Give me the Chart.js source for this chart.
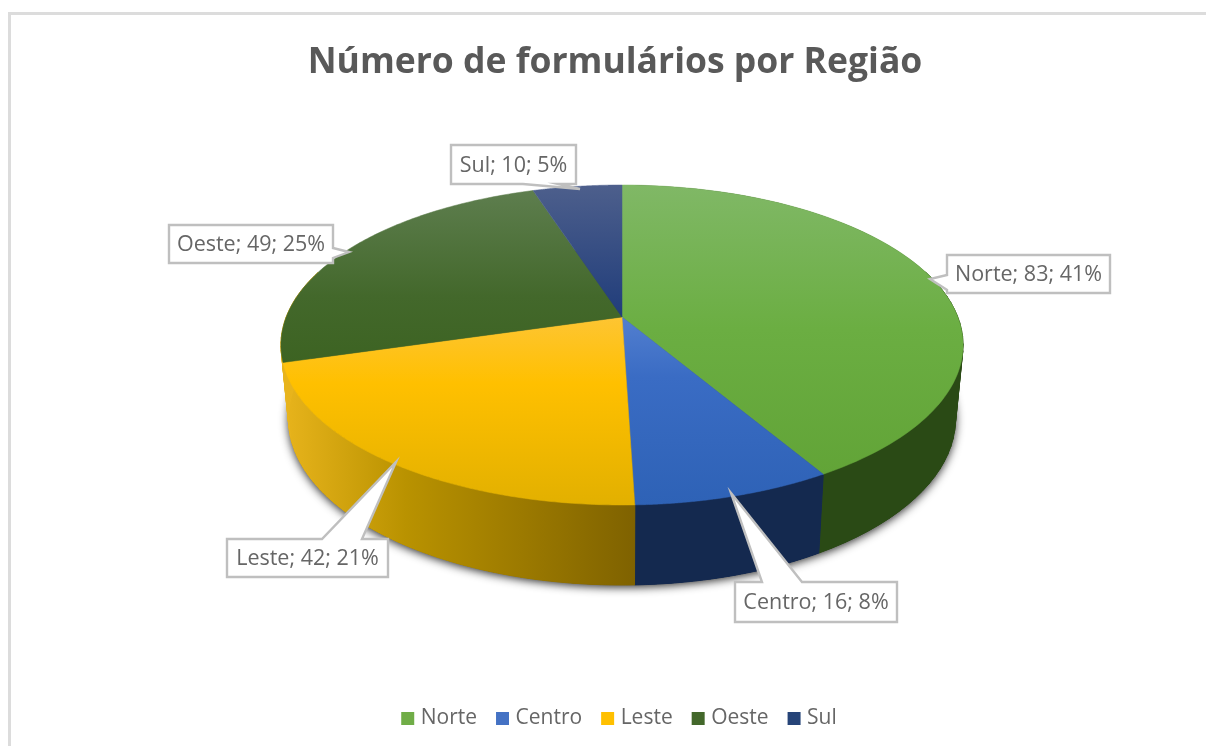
<!DOCTYPE html>
<html lang="pt">
<head>
<meta charset="utf-8">
<title>Número de formulários por Região</title>
<script src="https://cdn.jsdelivr.net/npm/chart.js@4"></script>
<style>
html,body{margin:0;padding:0;background:#fff;width:1206px;height:746px;overflow:hidden}
#frame{position:absolute;left:8px;top:12px;width:1300px;height:900px;border:3px solid #dcdcdc;box-sizing:border-box;filter:blur(0.4px)}
#wrap{position:absolute;left:0;top:0;width:1206px;height:746px;filter:blur(0.45px)}
</style>
</head>
<body>
<div id="frame"></div>
<div id="wrap"><canvas id="c" width="1206" height="746"></canvas></div>
<script>
const titleText = "Número de formulários por Região";
const categories = ["Norte", "Centro", "Leste", "Oeste", "Sul"];
const values = [83, 16, 42, 49, 10];
const percents = [41, 8, 21, 25, 5];
const baseColors = ["#70AD47", "#4472C4", "#FFC000", "#43682B", "#264478"];
const topStops = [
  [[0, "#80b866"], [0.45, "#6bae42"], [1, "#60a235"]],
  [[0.4, "#5480d0"], [0.6, "#3a6cc4"], [1, "#2e62b6"]],
  [[0.4, "#fdc536"], [0.62, "#ffc000"], [1, "#e2b000"]],
  [[0, "#5f7f50"], [0.35, "#43682b"], [0.6, "#3b6220"]],
  [[0, "#4d5f8c"], [0.42, "#1f3c7a"]]
];
const wallStops = [
  [[0, "#2a4a15"], [1, "#2a4a15"]],
  [[0, "#14294f"], [1, "#14294f"]],
  [[0, "#e8b41c"], [0.35, "#b99200"], [1, "#7f6200"]],
  [[0, "#e8b41c"], [1, "#e8b41c"]],
  [[0, "#14294f"], [1, "#14294f"]]
];
// callout layout: box x0,y0,x1,y1 and wedge base/tip points
const callouts = [
  {box:[947,255,1110,293], side:"l", a:275, b:290, tip:[930,279]},
  {box:[735,582,897,622], side:"t", a:802, b:762, tip:[731,493]},
  {box:[227,539,388,577], side:"t", a:362, b:322, tip:[396,462]},
  {box:[169,225,333,263], side:"r", a:248, b:258, tip:[349,252]},
  {box:[451,145,576,184], side:"b", a:523, b:558, tip:[580,189]}
];
// projection of the pie disc (perspective)
const CX = 622, CY = 317, RX = 335.8, AY = 155.1, K = -0.175;
const BOTTOM_SCALE = 0.978, DEPTH_MID = 72, DEPTH_V = 8;

function topPoint(theta){
  const u = Math.sin(theta), v = -Math.cos(theta), w = 1 + K * v;
  return {x: CX + RX * u / w, y: CY + AY * v / w, v};
}
function botPoint(theta){
  const p = topPoint(theta);
  return {x: CX + (p.x - CX) * BOTTOM_SCALE, y: p.y + DEPTH_MID + DEPTH_V * p.v, v: p.v};
}
function grad(ctx, x0, y0, x1, y1, stops){
  const g = ctx.createLinearGradient(x0, y0, x1, y1);
  stops.forEach(s => g.addColorStop(s[0], s[1]));
  return g;
}

const pie3d = {
  id: "pie3d",
  afterLayout(chart){
    chart.legend.left += 6;
    chart.legend.right += 6;
  },
  beforeDatasetsDraw(chart){
    const ctx = chart.ctx;
    const arcs = chart.getDatasetMeta(0).data;
    const N = 60;
    ctx.save();
    // soft shadow below the pie
    ctx.save();
    ctx.shadowColor = "rgba(0,0,0,0.85)";
    ctx.shadowBlur = 10;
    ctx.shadowOffsetY = 2;
    ctx.fillStyle = "#333";
    ctx.beginPath();
    for (let i = 0; i <= 240; i++) {
      const p = botPoint(i / 240 * 2 * Math.PI);
      i ? ctx.lineTo(p.x, p.y) : ctx.moveTo(p.x, p.y);
    }
    ctx.closePath();
    ctx.fill();
    ctx.restore();
    // side walls, as strips so that the outline between the two rims is filled
    arcs.forEach((arc, i) => {
      const s = arc.startAngle + Math.PI / 2, e = arc.endAngle + Math.PI / 2;
      const tops = [], bots = [];
      for (let j = 0; j <= N; j++) {
        const t = s + (e - s) * j / N;
        tops.push(topPoint(t)); bots.push(botPoint(t));
      }
      const xs = tops.map(p => p.x);
      const fill = grad(ctx, Math.min(...xs), 0, Math.max(...xs), 0, wallStops[i]);
      ctx.fillStyle = fill; ctx.strokeStyle = fill; ctx.lineWidth = 1;
      ctx.beginPath();
      tops.forEach((p, j) => j ? ctx.lineTo(p.x, p.y) : ctx.moveTo(p.x, p.y));
      bots.slice().reverse().forEach(p => ctx.lineTo(p.x, p.y));
      ctx.closePath();
      if (i !== 3 && i !== 4) ctx.fill();
      for (let j = 0; j < N; j++) {
        if (tops[j].v < -0.3 && tops[j + 1].v < -0.3) continue;
        ctx.beginPath();
        ctx.moveTo(tops[j].x, tops[j].y);
        ctx.lineTo(tops[j + 1].x, tops[j + 1].y);
        ctx.lineTo(bots[j + 1].x, bots[j + 1].y);
        ctx.lineTo(bots[j].x, bots[j].y);
        ctx.closePath();
        ctx.fill(); ctx.stroke();
      }
    });
    // top faces
    arcs.forEach((arc, i) => {
      const s = arc.startAngle + Math.PI / 2, e = arc.endAngle + Math.PI / 2;
      const fill = grad(ctx, 0, 185, 0, 505, topStops[i]);
      ctx.beginPath();
      ctx.moveTo(CX, CY);
      for (let j = 0; j <= 120; j++) {
        const p = topPoint(s + (e - s) * j / 120);
        ctx.lineTo(p.x, p.y);
      }
      ctx.closePath();
      ctx.fillStyle = fill; ctx.strokeStyle = fill; ctx.lineWidth = 0.5;
      ctx.fill(); ctx.stroke();
    });
    // data label callouts
    ctx.font = '21.5px "Open Sans"';
    ctx.textAlign = "center";
    ctx.textBaseline = "middle";
    callouts.forEach((c, i) => {
      const [x0, y0, x1, y1] = c.box;
      ctx.beginPath();
      ctx.moveTo(x0, y0);
      if (c.side === "t") { ctx.lineTo(c.b, y0); ctx.lineTo(c.tip[0], c.tip[1]); ctx.lineTo(c.a, y0); }
      ctx.lineTo(x1, y0);
      if (c.side === "r") { ctx.lineTo(x1, c.a); ctx.lineTo(c.tip[0], c.tip[1]); ctx.lineTo(x1, c.b); }
      ctx.lineTo(x1, y1);
      if (c.side === "b") { ctx.lineTo(c.b, y1); ctx.lineTo(c.tip[0], c.tip[1]); ctx.lineTo(c.a, y1); }
      ctx.lineTo(x0, y1);
      if (c.side === "l") { ctx.lineTo(x0, c.b); ctx.lineTo(c.tip[0], c.tip[1]); ctx.lineTo(x0, c.a); }
      ctx.closePath();
      ctx.fillStyle = "#fff"; ctx.fill();
      ctx.strokeStyle = "#bfbfbf"; ctx.lineWidth = 2.4; ctx.stroke();
      ctx.fillStyle = "#666666";
      ctx.fillText(categories[i] + "; " + values[i] + "; " + percents[i] + "%", (x0 + x1) / 2, (y0 + y1) / 2 + 1);
    });
    ctx.restore();
    return false;
  }
};

new Chart(document.getElementById("c"), {
  type: "pie",
  plugins: [pie3d],
  data: {
    labels: categories,
    datasets: [{ data: values, backgroundColor: baseColors, borderWidth: 0 }]
  },
  options: {
    responsive: false,
    animation: false,
    layout: { padding: { left: 24, right: 0, top: 26, bottom: 7 } },
    plugins: {
      tooltip: { enabled: false },
      title: {
        display: true, text: titleText, color: "#595959",
        font: { family: '"Open Sans"', size: 35.5, weight: "700" },
        padding: { top: 16, bottom: 10 }
      },
      legend: {
        position: "bottom",
        labels: {
          color: "#666666", usePointStyle: true, pointStyle: "rect",
          boxWidth: 5, boxHeight: 13, padding: 23,
          font: { family: '"Open Sans"', size: 21 }
        }
      }
    }
  }
});
</script>
</body>
</html>
